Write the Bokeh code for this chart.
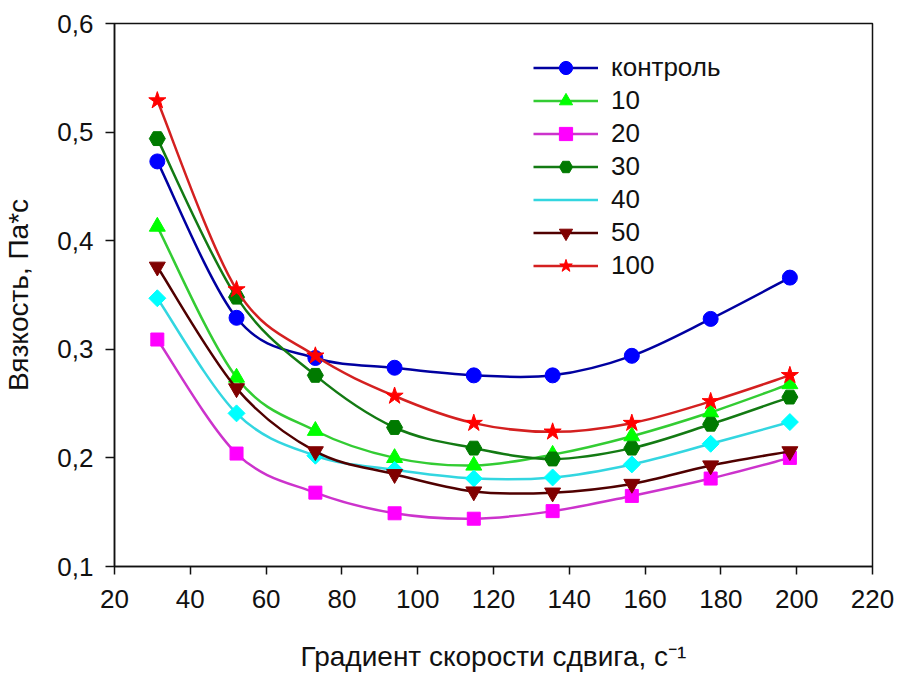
import math
from bokeh.plotting import figure
from bokeh.models import (ColumnDataSource, Range1d, FixedTicker, Legend, LegendItem)
from bokeh.embed import file_html
from bokeh.resources import INLINE

# ---------------- data ----------------
shear_rate = [31.3, 52.2, 73.0, 93.9, 114.8, 135.6, 156.5, 177.3, 198.2]
series_names = ["контроль", "10", "20", "30", "40", "50", "100"]
visc_control = [0.473, 0.329, 0.292, 0.283, 0.276, 0.276, 0.294, 0.328, 0.366]
visc_10 = [0.413, 0.274, 0.225, 0.200, 0.193, 0.203, 0.220, 0.242, 0.268]
visc_20 = [0.309, 0.204, 0.168, 0.149, 0.144, 0.151, 0.165, 0.181, 0.200]
visc_30 = [0.494, 0.348, 0.276, 0.228, 0.209, 0.199, 0.209, 0.231, 0.256]
visc_40 = [0.347, 0.241, 0.202, 0.189, 0.181, 0.182, 0.194, 0.213, 0.233]
visc_50 = [0.376, 0.264, 0.206, 0.185, 0.169, 0.168, 0.176, 0.193, 0.206]
visc_100 = [0.529, 0.355, 0.294, 0.257, 0.232, 0.224, 0.232, 0.252, 0.276]
x_ticks = [20, 40, 60, 80, 100, 120, 140, 160, 180, 200, 220]
y_ticks = [0.1, 0.2, 0.3, 0.4, 0.5, 0.6]
y_tick_labels = ["0,1", "0,2", "0,3", "0,4", "0,5", "0,6"]
x_title = "Градиент скорости сдвига, с⁻¹"
y_title = "Вязкость, Па*с"

all_series = [visc_control, visc_10, visc_20, visc_30, visc_40, visc_50, visc_100]
line_colors = ["#0000a0", "#33cc33", "#cc33cc", "#137a13", "#33d6e0", "#500000", "#d42020"]
marker_colors = ["#0000ff", "#00ff00", "#ff00ff", "#007a00", "#00ffff", "#800000", "#ff0000"]
markers = ["circle", "triangle", "square", "hex", "square", "inverted_triangle", "star"]
legend_markers = ["circle", "triangle", "square", "hex", "diamond", "inverted_triangle", "star"]
marker_sizes = [15, 16, 13, 16, 12, 16, 18]
marker_angles = [0, 0, 0, 0, math.pi / 4, 0, 0]

FONT = "Liberation Sans"

p = figure(width=897, height=674, output_backend="svg", toolbar_location=None,
           x_range=Range1d(20, 220), y_range=Range1d(0.1, 0.6),
           min_border_left=113, min_border_right=25, min_border_top=23, min_border_bottom=108)
p.xgrid.visible = False
p.ygrid.visible = False
p.outline_line_color = "#111111"
p.outline_line_width = 1.5
p.background_fill_color = "white"
p.border_fill_color = "white"

p.xaxis.ticker = FixedTicker(ticks=x_ticks)
p.yaxis.ticker = FixedTicker(ticks=y_ticks)
p.yaxis.major_label_overrides = {t: l for t, l in zip(y_ticks, y_tick_labels)}
for ax in (p.xaxis[0], p.yaxis[0]):
    ax.axis_line_color = "#111111"
    ax.axis_line_width = 1.5
    ax.major_tick_line_color = "#111111"
    ax.major_tick_line_width = 1.5
    ax.major_tick_in = 0
    ax.minor_tick_line_color = None
    ax.major_label_text_font = FONT
    ax.major_label_text_font_size = "26px"
    ax.major_label_text_color = "#111111"
    ax.axis_label_text_font = FONT
    ax.axis_label_text_font_size = "28px"
    ax.axis_label_text_font_style = "normal"
    ax.axis_label_text_color = "#111111"
p.xaxis.major_tick_out = 8
p.yaxis.major_tick_out = 9
p.xaxis.major_label_standoff = 15
p.yaxis.major_label_standoff = 12
p.xaxis.axis_label = x_title
p.yaxis.axis_label = y_title
p.xaxis.axis_label_standoff = 30
p.yaxis.axis_label_standoff = 20


def bezier_segments(xs, ys):
    n = len(xs)
    seg = dict(x0=[], y0=[], x1=[], y1=[], cx0=[], cy0=[], cx1=[], cy1=[])
    for i in range(n - 1):
        i0 = max(i - 1, 0)
        i3 = min(i + 2, n - 1)
        seg["x0"].append(xs[i]); seg["y0"].append(ys[i])
        seg["x1"].append(xs[i + 1]); seg["y1"].append(ys[i + 1])
        seg["cx0"].append(xs[i] + (xs[i + 1] - xs[i0]) / 6.0)
        seg["cy0"].append(ys[i] + (ys[i + 1] - ys[i0]) / 6.0)
        seg["cx1"].append(xs[i + 1] - (xs[i3] - xs[i]) / 6.0)
        seg["cy1"].append(ys[i + 1] - (ys[i3] - ys[i]) / 6.0)
    return seg


items = []
for name, ys, lc, mc, mk, lmk, ms, ma in zip(series_names, all_series, line_colors, marker_colors,
                                             markers, legend_markers, marker_sizes, marker_angles):
    src_line = ColumnDataSource(bezier_segments(shear_rate, ys))
    r_line = p.bezier(x0="x0", y0="y0", x1="x1", y1="y1", cx0="cx0", cy0="cy0",
                      cx1="cx1", cy1="cy1", source=src_line, line_color=lc, line_width=2.5)
    src_pts = ColumnDataSource(dict(x=shear_rate, y=ys))
    r_pts = p.scatter(x="x", y="y", source=src_pts, marker=mk, size=ms, angle=ma,
                      fill_color=mc, line_color=mc, line_width=1)
    if lmk != mk:
        r_leg = p.scatter(x=[], y=[], marker=lmk, size=ms,
                          fill_color=mc, line_color=mc, line_width=1)
        items.append(LegendItem(label=name, renderers=[r_line, r_leg]))
    else:
        items.append(LegendItem(label=name, renderers=[r_line, r_pts]))

legend = Legend(items=items, location=(419, 284), orientation="vertical",
                glyph_width=65, glyph_height=33, label_height=33, spacing=0,
                padding=0, margin=0, label_standoff=13,
                border_line_color=None, background_fill_alpha=0,
                label_text_font=FONT, label_text_font_size="26px",
                label_text_color="#111111", label_text_baseline="middle")
p.add_layout(legend, "center")

open("out.html", "w").write(file_html(p, INLINE))
